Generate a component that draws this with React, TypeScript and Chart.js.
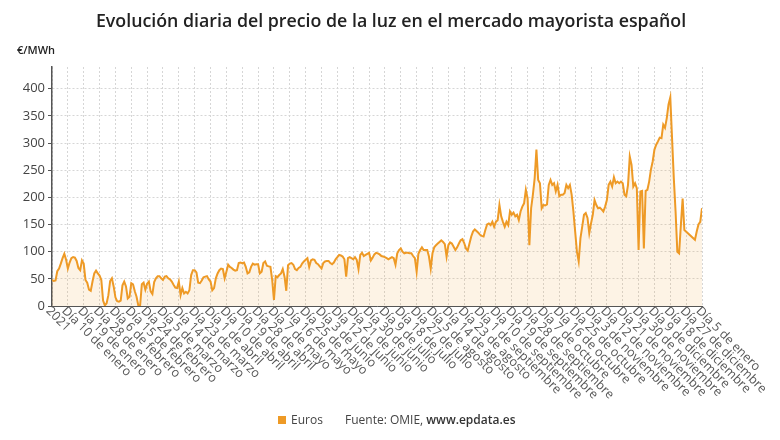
import { useEffect, useRef } from "react";
import { Chart, registerables } from "chart.js";

Chart.register(...registerables);

// Precio medio diario (€/MWh), un array por mes
const enero2021 = [48, 46, 47, 64, 69, 78, 88, 96, 85, 69, 80, 88, 90, 89, 83, 70, 66, 84, 78, 48, 43, 30, 28, 45, 60, 65, 60, 56, 48, 10, 1];
const febrero2021 = [5, 20, 46, 51, 36, 16, 9, 8, 10, 38, 45, 36, 14, 17, 42, 40, 27, 17, 1, 0, 40, 43, 30, 41, 45, 27, 22, 44];
const marzo2021 = [51, 55, 55, 51, 48, 54, 55, 51, 49, 45, 39, 34, 33, 45, 20, 33, 23, 26, 23, 29, 57, 66, 66, 62, 43, 42, 47, 53, 54, 55, 49];
const abril2021 = [45, 29, 33, 51, 60, 66, 69, 68, 51, 63, 76, 72, 70, 67, 65, 66, 79, 80, 79, 80, 72, 60, 62, 72, 78, 76, 77, 77, 60, 63];
const mayo2021 = [79, 82, 74, 73, 72, 48, 11, 55, 53, 57, 60, 68, 54, 28, 75, 78, 79, 76, 68, 66, 70, 72, 78, 82, 85, 88, 72, 84, 86, 85, 79];
const junio2021 = [77, 73, 69, 79, 82, 83, 83, 79, 77, 80, 86, 90, 94, 93, 91, 86, 54, 88, 90, 88, 86, 90, 85, 68, 94, 98, 92, 94, 96, 98];
const julio2021 = [84, 89, 95, 98, 97, 95, 92, 91, 90, 88, 86, 88, 90, 88, 76, 97, 103, 106, 100, 97, 98, 98, 97, 97, 92, 88, 63, 96, 103, 108, 103];
const agosto2021 = [103, 103, 91, 69, 97, 108, 112, 115, 118, 121, 118, 114, 91, 112, 117, 115, 109, 103, 108, 115, 121, 123, 116, 106, 102, 115, 128, 137, 141, 138, 135];
const septiembre2021 = [131, 129, 128, 140, 150, 152, 149, 155, 146, 155, 158, 186, 165, 155, 146, 155, 149, 174, 168, 172, 165, 168, 158, 174, 183, 189, 214, 198, 112, 180];
const octubre2021 = [205, 235, 288, 232, 226, 180, 186, 185, 187, 223, 232, 223, 226, 211, 223, 202, 205, 205, 208, 223, 217, 223, 205, 174, 137, 100, 82, 125, 146, 168, 171];
const noviembre2021 = [162, 134, 152, 168, 195, 186, 180, 181, 178, 174, 183, 195, 223, 229, 220, 237, 226, 229, 226, 229, 226, 205, 202, 223, 275, 260, 220, 226, 217, 103];
const diciembre2021 = [211, 212, 106, 212, 214, 229, 251, 266, 288, 297, 303, 310, 309, 334, 328, 346, 371, 384, 309, 235, 174, 100, 97, 149, 198, 140, null, null, null, null, null];
const enero2022 = [122, 137, 150, 155, 180];

const precios: (number | null)[] = [
  ...enero2021, ...febrero2021, ...marzo2021, ...abril2021, ...mayo2021, ...junio2021,
  ...julio2021, ...agosto2021, ...septiembre2021, ...octubre2021, ...noviembre2021,
  ...diciembre2021, ...enero2022,
];

// Una etiqueta cada nueve días
const pasoEtiquetas = 9;
const etiquetasEje = [
  "2021", "Día 10 de enero", "Día 19 de enero", "Día 28 de enero",
  "Día 6 de febrero", "Día 15 de febrero", "Día 24 de febrero",
  "Día 5 de marzo", "Día 14 de marzo", "Día 23 de marzo",
  "Día 1 de abril", "Día 10 de abril", "Día 19 de abril", "Día 28 de abril",
  "Día 7 de mayo", "Día 16 de mayo", "Día 25 de mayo",
  "Día 3 de junio", "Día 12 de junio", "Día 21 de junio", "Día 30 de junio",
  "Día 9 de julio", "Día 18 de julio", "Día 27 de julio",
  "Día 5 de agosto", "Día 14 de agosto", "Día 23 de agosto",
  "Día 1 de septiembre", "Día 10 de septiembre", "Día 19 de septiembre", "Día 28 de septiembre",
  "Día 7 de octubre", "Día 16 de octubre", "Día 25 de octubre",
  "Día 3 de noviembre", "Día 12 de noviembre", "Día 21 de noviembre", "Día 30 de noviembre",
  "Día 9 de diciembre", "Día 18 de diciembre", "Día 27 de diciembre",
  "Día 5 de enero",
];

const titulo = "Evolución diaria del precio de la luz en el mercado mayorista español";
const unidad = "€/MWh";
const serie = "Euros";
const fuente = "Fuente: OMIE, ";
const web = "www.epdata.es";

const naranja = "#ee9a26";
const fuenteTexto = '"Open Sans", sans-serif';

const decoracion = {
  id: "decoracion",
  afterDraw(chart: any) {
    const { ctx, chartArea } = chart;
    const x = chart.scales.x;
    ctx.save();

    ctx.fillStyle = "#222";
    ctx.font = `600 17.8px ${fuenteTexto}`;
    ctx.textAlign = "center";
    ctx.textBaseline = "middle";
    ctx.fillText(titulo, 391, 22);

    ctx.font = `600 11px ${fuenteTexto}`;
    ctx.textAlign = "left";
    ctx.fillText(unidad, 17, 51);

    // Etiquetas del eje X, giradas 45°
    ctx.font = `12.5px ${fuenteTexto}`;
    ctx.fillStyle = "#555";
    x.ticks.forEach((t: any) => {
      const i = Math.round(t.value / pasoEtiquetas);
      const texto = etiquetasEje[i];
      if (!texto) return;
      const px = x.getPixelForValue(t.value);
      ctx.save();
      ctx.translate(px - 4, chartArea.bottom + 3);
      ctx.rotate(Math.PI / 4);
      ctx.textAlign = "left";
      ctx.textBaseline = "middle";
      ctx.fillText(texto, 0, 0);
      ctx.restore();
    });

    // Leyenda y fuente
    ctx.fillStyle = naranja;
    ctx.fillRect(278, 416, 8, 8);
    ctx.font = `12px ${fuenteTexto}`;
    ctx.fillStyle = "#444";
    ctx.textAlign = "left";
    ctx.textBaseline = "middle";
    ctx.fillText(serie, 291, 421);
    ctx.fillText(fuente, 345, 421);
    const w = ctx.measureText(fuente).width;
    ctx.font = `600 12px ${fuenteTexto}`;
    ctx.fillStyle = "#333";
    ctx.fillText(web, 345 + w, 421);

    ctx.restore();
  },
};

export default function App() {
  const ref = useRef<HTMLCanvasElement | null>(null);

  useEffect(() => {
    if (!ref.current) return;
    const chart = new Chart(ref.current, {
      type: "line",
      data: {
        datasets: [
          {
            label: serie,
            data: precios.map((y, x) => ({ x, y })),
            borderColor: naranja,
            borderWidth: 2,
            backgroundColor: "rgba(240,160,40,0.12)",
            fill: "origin",
            pointRadius: 0,
            tension: 0,
            spanGaps: true,
          },
        ],
      },
      options: {
        responsive: false,
        animation: false,
        devicePixelRatio: 1,
        layout: { padding: { top: 67, right: 78, bottom: 0, left: 0 } },
        plugins: {
          legend: { display: false },
          tooltip: { enabled: false },
        },
        scales: {
          x: {
            type: "linear",
            min: 0,
            max: precios.length - 1,
            ticks: { display: false, stepSize: pasoEtiquetas },
            grid: { color: "#d6d6d6", drawTicks: false },
            border: { color: "#555", width: 1, dash: [2, 2] },
            afterFit: (s: any) => {
              s.height = 134;
            },
          },
          y: {
            min: 0,
            max: 440,
            ticks: {
              stepSize: 50,
              includeBounds: false,
              color: "#444",
              padding: 3,
              font: { family: fuenteTexto, size: 13 },
            },
            grid: { color: "#d6d6d6", tickColor: "#555", tickLength: 4 },
            border: { color: "#555", width: 1.5, dash: [2, 2] },
            afterFit: (s: any) => {
              s.width = 52;
            },
          },
        },
      },
      plugins: [decoracion],
    });
    return () => chart.destroy();
  }, []);

  return (
    <div style={{ position: "fixed", left: 0, top: 0, width: 780, height: 440, background: "#fff" }}>
      <canvas ref={ref} width={780} height={440} />
    </div>
  );
}
